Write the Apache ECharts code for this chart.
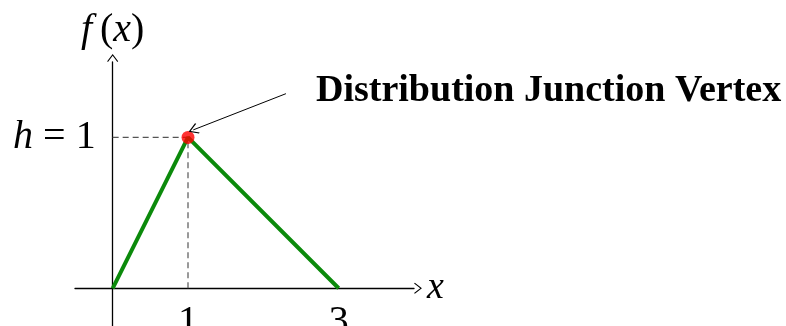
<!DOCTYPE html>
<html>
<head>
<meta charset="utf-8">
<script src="https://cdn.jsdelivr.net/npm/echarts@6/dist/echarts.min.js"></script>
<style>
  html, body { margin: 0; padding: 0; background: #fff; }
  #chart { width: 786px; height: 326px; }
</style>
</head>
<body>
<div id="chart"></div>
<script>
// 三角分布 f(x)
const pdfPoints = [[0, 0], [1, 1], [3, 0]];
const vertex = [[1, 1]];
const guideH = [[0, 1], [1, 1]];
const guideV = [[1, 0], [1, 1]];
const xTicks = [1, 3];
const yTicks = [1];
const annoFrom = [2.3, 1.29];
const annoTo = [1.07, 1.05];
const annoText = 'Distribution Junction Vertex';

const serif = 'Liberation Serif';
const openArrow = 'path://M0,0 L7,9 L6,10 L0,2.2 L-6,10 L-7,9 Z';

const chart = echarts.init(document.getElementById('chart'));

// 轴线要穿过原点：用 offset 把轴从网格边缘挪进来
const grid = { left: 75, top: 62, width: 339, height: 264 };
const xRange = [-0.5, 4];
const yRange = [-0.25, 1.5];
const yAxisShift = -grid.width * (0 - xRange[0]) / (xRange[1] - xRange[0]);
const xAxisShift = -grid.height * (0 - yRange[0]) / (yRange[1] - yRange[0]);

const option = {
    animation: false,
    grid: Object.assign({ containLabel: false, outerBoundsMode: 'none' }, grid),
    xAxis: {
        type: 'value',
        min: xRange[0],
        max: xRange[1],
        offset: xAxisShift,
        splitLine: { show: false },
        axisTick: { show: false },
        axisLine: {
            onZero: false,
            symbol: ['none', openArrow],
            symbolSize: [11, 9],
            symbolOffset: [0, 4],
            lineStyle: { color: '#000', width: 1.3 }
        },
        axisLabel: {
            customValues: xTicks,
            margin: 14,
            fontFamily: serif,
            fontSize: 40,
            color: '#000'
        },
        name: 'x',
        nameLocation: 'end',
        nameGap: 13,
        nameTextStyle: { fontFamily: serif, fontStyle: 'italic', fontSize: 38, color: '#000', padding: [0, 0, 8, 0] }
    },
    yAxis: {
        type: 'value',
        min: yRange[0],
        max: yRange[1],
        offset: yAxisShift,
        splitLine: { show: false },
        axisTick: { show: false },
        axisLine: {
            onZero: false,
            symbol: ['none', openArrow],
            symbolSize: [11, 9],
            symbolOffset: [0, 4],
            lineStyle: { color: '#000', width: 1.3 }
        },
        axisLabel: {
            customValues: yTicks,
            margin: 17,
            formatter: function (v) { return '{i|h} = ' + v; },
            fontFamily: serif,
            fontSize: 40,
            color: '#000',
            rich: { i: { fontFamily: serif, fontStyle: 'italic', fontSize: 40, color: '#000' } }
        },
        name: '{i|f}\u2009({i|x})',
        nameLocation: 'end',
        nameGap: 12,
        nameTextStyle: {
            fontFamily: serif, fontSize: 40, color: '#000', align: 'center',
            rich: { i: { fontFamily: serif, fontStyle: 'italic', fontSize: 40, color: '#000' } }
        }
    },
    series: [
        {
            type: 'line',
            data: guideH,
            symbol: 'none',
            lineStyle: { color: '#555', width: 1.2, type: [6, 4] },
            z: 1
        },
        {
            type: 'line',
            data: guideV,
            symbol: 'none',
            lineStyle: { color: '#555', width: 1.2, type: [6, 4] },
            z: 1
        },
        {
            type: 'line',
            data: pdfPoints,
            symbol: 'none',
            lineStyle: { color: '#0b8a0b', width: 4 },
            z: 2,
            markLine: {
                silent: true,
                symbol: ['none', openArrow],
                symbolSize: [11, 10],
                lineStyle: { color: '#000', width: 1, type: 'solid' },
                label: { show: false },
                data: [[{ coord: annoFrom }, { coord: annoTo }]]
            }
        },
        {
            type: 'scatter',
            data: vertex,
            symbolSize: 13,
            itemStyle: { color: '#ff0000' },
            z: 3
        }
    ],
    graphic: [
        {
            type: 'text',
            left: 316,
            top: 72,
            style: {
                text: annoText,
                font: 'bold 38px "Liberation Serif"',
                fill: '#000'
            }
        }
    ]
};

option && chart.setOption(option);
</script>
</body>
</html>
